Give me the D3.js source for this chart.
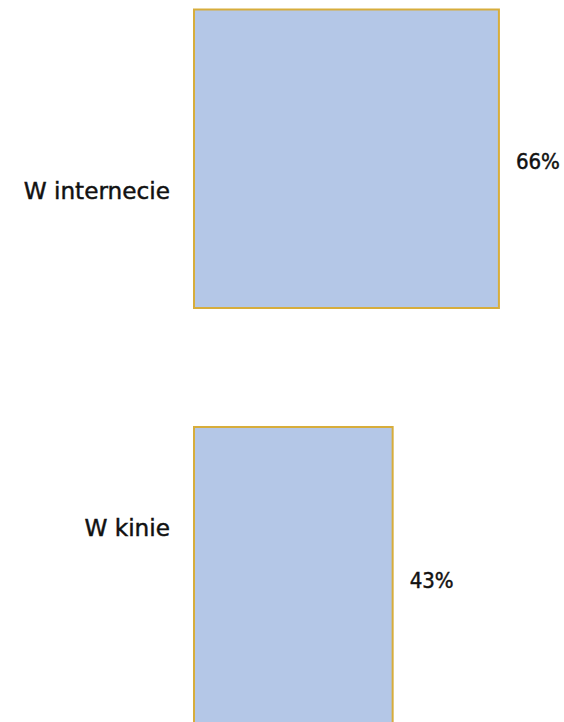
<!DOCTYPE html>
<html>
<head>
<meta charset="utf-8">
<script src="https://cdn.jsdelivr.net/npm/d3@7"></script>
<style>
  body { margin: 0; background: #fff; }
  svg { display: block; }
  text { fill: #111; stroke: #111; stroke-width: 0.45px; }
  .nom { font-family: "DejaVu Sans", sans-serif; }
  .val { font-family: "DejaVu Sans Condensed", "Liberation Sans", sans-serif; }
</style>
</head>
<body>
<div class="box"></div>
<script>
// données
const categories = ['W internecie', 'W kinie'];
const valeurs = [66, 43];
const etiquettes = ['66%', '43%'];

const dims = {width: 564, height: 722};

const svg = d3.select('.box')
              .append('svg')
              .attr('width', dims.width)
              .attr('height', dims.height);

// échelles
const x = d3.scaleLinear()
            .domain([0, 100])
            .range([194, 194 + 462]);

const y = d3.scaleBand()
            .domain(categories)
            .range([9.5, 725.5])
            .paddingInner(0.285)
            .paddingOuter(0);

// décalage vertical des libellés (ligne de base, comme sur l'original)
const decalageNom = [40, -40];
const decalageVal = [10, 12];

// barres
svg.selectAll('rect')
   .data(valeurs)
   .enter()
   .append('rect')
   .attr('x', x(0))
   .attr('y', (d, i) => y(categories[i]))
   .attr('width', d => x(d) - x(0))
   .attr('height', y.bandwidth())
   .attr('fill', '#b4c7e7')
   .attr('stroke', '#d7ad3c')
   .attr('stroke-width', 2);

// noms des catégories
svg.selectAll('text.nom')
   .data(categories)
   .enter()
   .append('text')
   .attr('class', 'nom')
   .attr('x', 170)
   .attr('y', (d, i) => y(d) + y.bandwidth() / 2 + decalageNom[i])
   .attr('text-anchor', 'end')
   .attr('font-size', 23.2)
   .text(d => d);

// valeurs
svg.selectAll('text.val')
   .data(valeurs)
   .enter()
   .append('text')
   .attr('class', 'val')
   .attr('x', d => x(d) + 17)
   .attr('y', (d, i) => y(categories[i]) + y.bandwidth() / 2 + decalageVal[i])
   .attr('font-size', 22)
   .text((d, i) => etiquettes[i]);
</script>
</body>
</html>
